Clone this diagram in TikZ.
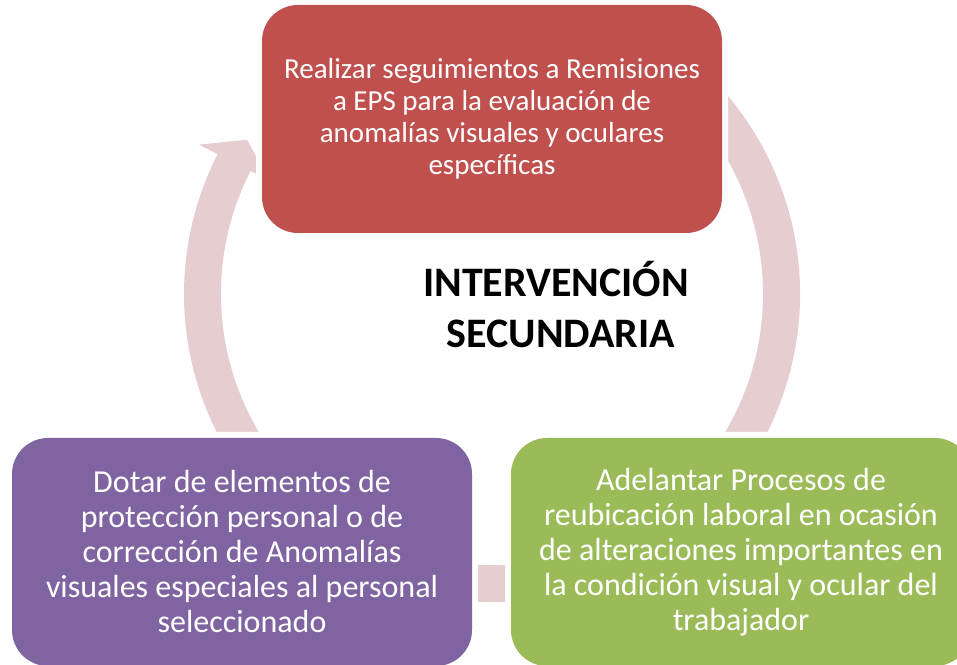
\documentclass[tikz,border=0pt]{standalone}
\usepackage{fontspec}
\setmainfont{Carlito}
\usetikzlibrary{calc}
\definecolor{boxred}{HTML}{C0504D}
\definecolor{boxpurple}{HTML}{8064A2}
\definecolor{boxgreen}{HTML}{9BBB59}
\definecolor{ringcol}{HTML}{E6CED0}
\begin{document}
\begin{tikzpicture}[x=1pt,y=1pt,
  cyclebox/.style={rectangle, rounded corners=36pt, minimum width=460pt,
    minimum height=228pt, inner sep=0pt, align=center, text=white,
    preaction={draw=white, line width=12pt}},
  topfont/.style={font={\fontsize{29}{32}\selectfont}},
  botfont/.style={font={\fontsize{32}{35}\selectfont}},
  titlefont/.style={font={\fontsize{42}{51}\selectfont\bfseries}, align=center, text=black}
]
\useasboundingbox (0,0) rectangle (957,664);
\clip (0,0) rectangle (957,664);
\coordinate (C) at (492,370);
% circular arrow
\fill[ringcol] ($(C)+(70:308)$) arc[start angle=70, end angle=-207, radius=308pt]
  -- ($(C)+(153:329)$) -- ($(C)+(147.8:289.5)$) -- ($(C)+(153:250)$)
  -- ($(C)+(153:271)$) arc[start angle=-207, end angle=70, radius=271pt] -- cycle;
% boxes
\node[cyclebox, topfont, fill=boxred] (top) at (492,545)
  {Realizar seguimientos a Remisiones\\a EPS para la evaluación de\\anomalías visuales y oculares\\específicas};
\node[cyclebox, botfont, fill=boxpurple] (left) at (242,112)
  {Dotar de elementos de\\protección personal o de\\corrección de Anomalías\\visuales especiales al personal\\seleccionado};
\node[cyclebox, botfont, fill=boxgreen] (right) at (741,112)
  {Adelantar Procesos de\\reubicación laboral en ocasión\\de alteraciones importantes en\\la condición visual y ocular del\\trabajador};
% title
\node[titlefont] (title) at (556,359) {INTERVENCIÓN\\\ SECUNDARIA};
\end{tikzpicture}
\end{document}
